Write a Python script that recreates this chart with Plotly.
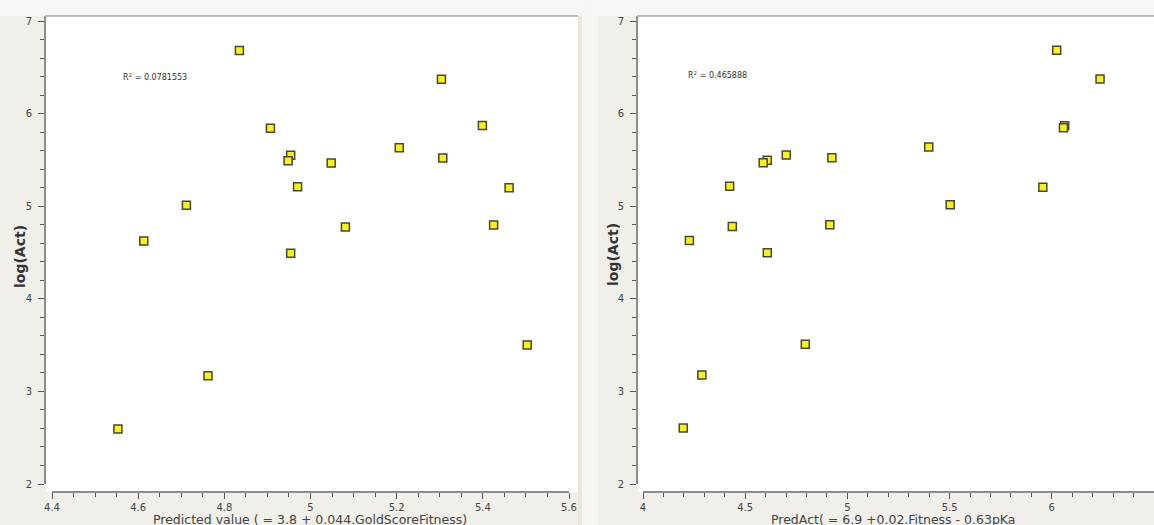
import plotly.graph_objects as go

# ---- data ----
left_pred = [4.835, 5.304, 4.907, 5.399, 4.954, 4.948, 5.048, 5.206, 5.307, 4.970,
             5.461, 4.712, 4.613, 5.081, 5.425, 4.954, 5.503, 4.762, 4.553]
left_act = [6.682, 6.370, 5.842, 5.871, 5.549, 5.491, 5.466, 5.632, 5.520, 5.209,
            5.198, 5.010, 4.623, 4.775, 4.797, 4.493, 3.501, 3.169, 2.593]

right_pred = [6.024, 6.236, 6.063, 6.057, 5.398, 4.701, 4.924, 4.608, 4.588, 4.424,
              5.956, 5.503, 4.437, 4.914, 4.227, 4.608, 4.794, 4.288, 4.197]
right_act = [6.684, 6.375, 5.869, 5.847, 5.640, 5.553, 5.524, 5.495, 5.469, 5.215,
             5.204, 5.015, 4.782, 4.800, 4.629, 4.498, 3.509, 3.178, 2.604]

left_r2 = "R<sup>2</sup> = 0.0781553"
right_r2 = "R<sup>2</sup> = 0.465888"
left_xtitle = "Predicted value ( = 3.8 + 0.044.GoldScoreFitness)"
right_xtitle = "PredAct( = 6.9 +0.02.Fitness - 0.63pKa"
ytitle = "log(Act)"

# ---- layout helpers (pixel -> paper) ----
W, H = 1154, 525
def px(x):
    return x / W
def py(y):
    return 1 - y / H

FONT = "DejaVu Sans"
marker = dict(symbol="square", size=8, color="#f7f21e",
              line=dict(color="#4a4630", width=1.5))

fig = go.Figure()
fig.add_trace(go.Scatter(x=left_pred, y=left_act, mode="markers", marker=marker,
                         xaxis="x", yaxis="y", showlegend=False, hoverinfo="x+y"))
fig.add_trace(go.Scatter(x=right_pred, y=right_act, mode="markers", marker=marker,
                         xaxis="x2", yaxis="y2", showlegend=False, hoverinfo="x+y"))

minor_common = dict(ticklen=4, ticks="outside", tickcolor="#555555", tickwidth=1, showgrid=False)
axis_common = dict(showgrid=False, zeroline=False, showline=True, linecolor="#8c8c8c",
                   linewidth=2, ticks="outside", tickcolor="#555555", tickwidth=1,
                   tickfont=dict(family=FONT, size=10, color="#444444"),
                   automargin=False, fixedrange=True)

y_top = 7 + 5 / 92.6
fig.update_layout(
    template="none",
    width=W, height=H,
    margin=dict(l=0, r=0, t=0, b=0, pad=0, autoexpand=False),
    paper_bgcolor="#f0efea",
    plot_bgcolor="rgba(0,0,0,0)",
    xaxis=dict(axis_common, domain=[px(52), px(569)], range=[4.4, 5.6],
               anchor="free", position=py(492), dtick=0.2, tick0=4.4, ticklen=6,
               ticklabelstandoff=0, minor=dict(minor_common, dtick=0.05)),
    yaxis=dict(axis_common, domain=[py(484), py(16)], range=[2, y_top],
               anchor="free", position=px(45), dtick=1, ticklen=6,
               ticklabelstandoff=4, minor=dict(minor_common, dtick=0.2)),
    xaxis2=dict(axis_common, domain=[px(643), 1.0], range=[4, 6.5],
                anchor="free", position=py(492), dtick=0.5, tick0=4, ticklen=6,
                ticklabelstandoff=0, minor=dict(minor_common, dtick=0.1)),
    yaxis2=dict(axis_common, domain=[py(484), py(16)], range=[2, y_top],
                anchor="free", position=px(637), dtick=1, ticklen=6,
                ticklabelstandoff=4, minor=dict(minor_common, dtick=0.2)),
)

shapes = [
    # light strip along the top
    dict(type="rect", xref="paper", yref="paper", x0=0, x1=1, y0=py(16), y1=1,
         fillcolor="#f7f7f5", line_width=0, layer="below"),
    # gap between panels
    dict(type="rect", xref="paper", yref="paper", x0=px(578), x1=px(598), y0=0, y1=1,
         fillcolor="#f6f6f3", line_width=0, layer="below"),
    dict(type="rect", xref="paper", yref="paper", x0=px(578), x1=px(582), y0=0, y1=py(16),
         fillcolor="#ebe8d8", line_width=0, layer="below"),
    # white plot areas
    dict(type="rect", xref="paper", yref="paper", x0=px(46), x1=px(578), y0=py(492), y1=py(16),
         fillcolor="#ffffff", line_width=0, layer="below"),
    dict(type="rect", xref="paper", yref="paper", x0=px(638), x1=1, y0=py(492), y1=py(16),
         fillcolor="#ffffff", line_width=0, layer="below"),
    # top borders
    dict(type="line", xref="paper", yref="paper", x0=px(45), x1=px(578), y0=py(16), y1=py(16),
         line=dict(color="#a8a8a8", width=1.5)),
    dict(type="line", xref="paper", yref="paper", x0=px(637), x1=1, y0=py(16), y1=py(16),
         line=dict(color="#a8a8a8", width=1.5)),
]
fig.update_layout(shapes=shapes)

annotations = []
for text, x, y in [(left_r2, 121, 77), (right_r2, 686, 75)]:
    annotations.append(dict(text=text, x=px(x), y=py(y), xref="paper", yref="paper",
                            showarrow=False, xanchor="left", yanchor="middle",
                            font=dict(family=FONT, size=8, color="#333333")))
for x, y in [(20, 257), (613, 255)]:
    annotations.append(dict(text=ytitle, x=px(x), y=py(y), xref="paper", yref="paper",
                            showarrow=False, textangle=-90, xanchor="center", yanchor="middle",
                            font=dict(family=FONT, size=14, color="#333333", weight="bold")))
for text, x in [(left_xtitle, 310), (right_xtitle, 893)]:
    annotations.append(dict(text=text, x=px(x), y=py(519), xref="paper", yref="paper",
                            showarrow=False, xanchor="center", yanchor="middle",
                            font=dict(family=FONT, size=12.5, color="#444444")))
fig.update_layout(annotations=annotations)

fig.write_html("out.html")
